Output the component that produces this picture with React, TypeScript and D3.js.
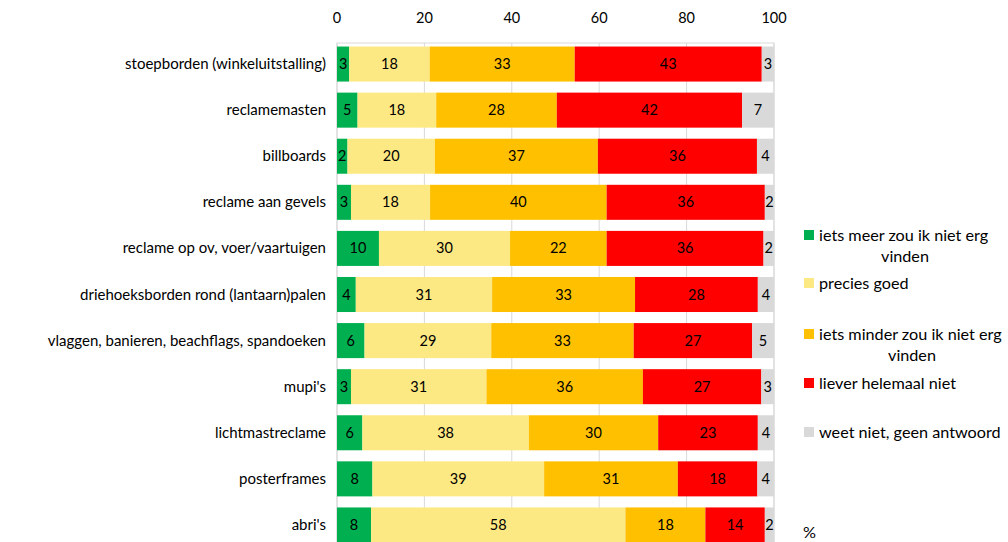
import React from "react";
import * as d3 from "d3";

const categories = [
  "stoepborden (winkeluitstalling)",
  "reclamemasten",
  "billboards",
  "reclame aan gevels",
  "reclame op ov, voer/vaartuigen",
  "driehoeksborden rond (lantaarn)palen",
  "vlaggen, banieren, beachflags, spandoeken",
  "mupi's",
  "lichtmastreclame",
  "posterframes",
  "abri's",
];

const seriesNames = [
  "iets meer zou ik niet erg vinden",
  "precies goed",
  "iets minder zou ik niet erg vinden",
  "liever helemaal niet",
  "weet niet, geen antwoord",
];

const meer = [2.8, 4.7, 2.4, 3.2, 9.6, 4.3, 6.3, 3.2, 5.8, 8.1, 7.8];
const precies = [18.4, 18.0, 20.0, 18.1, 30.0, 31.2, 29.0, 31.0, 38.1, 39.3, 58.2];
const minder = [33.2, 27.6, 37.3, 40.4, 22.1, 32.7, 32.6, 35.8, 29.6, 30.6, 18.3];
const liever = [42.8, 42.4, 36.4, 36.2, 35.9, 28.1, 27.1, 27.1, 22.8, 18.2, 13.6];
const weetNiet = [2.8, 7.3, 3.9, 2.1, 2.4, 3.7, 5.0, 2.9, 3.7, 3.8, 2.1];

const xTicks = [0, 20, 40, 60, 80, 100];

const colors = ["#00b050", "#fde983", "#ffc000", "#ff0000", "#d9d9d9"];

const FONT = "Lato, 'Open Sans', sans-serif";

const App: React.FC = () => {
  const width = 1008;
  const height = 542;
  const plot = { left: 337, right: 774, top: 41, bottom: 548 };

  const x = d3.scaleLinear().domain([0, 100]).range([plot.left, plot.right]);
  const y = d3
    .scaleBand<string>()
    .domain(categories)
    .range([plot.top, plot.bottom])
    .paddingInner(0.24)
    .paddingOuter(0.12);

  const table = categories.map((c, i) => ({
    category: c,
    s0: meer[i],
    s1: precies[i],
    s2: minder[i],
    s3: liever[i],
    s4: weetNiet[i],
  }));
  const keys = ["s0", "s1", "s2", "s3", "s4"];
  const stacked = d3.stack<any>().keys(keys)(table);

  const legendY = [235, 283, 334, 383, 432];

  return (
    <svg
      width={width}
      height={height}
      style={{ position: "absolute", left: 0, top: 0, fontFamily: FONT }}
    >
      <rect x={0} y={0} width={width} height={height} fill="#fff" />
      {/* plot frame and gridlines */}
      <rect
        x={plot.left}
        y={43}
        width={plot.right - plot.left}
        height={plot.bottom - 43}
        fill="none"
        stroke="#d9d9d9"
      />
      {xTicks.map((t) => (
        <g key={t}>
          <line
            x1={x(t)}
            x2={x(t)}
            y1={43}
            y2={plot.bottom}
            stroke="#d9d9d9"
          />
          <text
            x={x(t)}
            y={23}
            textAnchor="middle"
            fontSize={14.5}
            fill="#000"
          >
            {t}
          </text>
        </g>
      ))}

      {/* bars */}
      {stacked.map((layer, si) => (
        <g key={layer.key}>
          {layer.map((d, i) => {
            const x0 = x(d[0]);
            const x1 = x(d[1]);
            const yy = y(categories[i]) ?? 0;
            return (
              <g key={i}>
                <rect
                  x={x0}
                  y={yy}
                  width={x1 - x0}
                  height={y.bandwidth()}
                  fill={colors[si]}
                />
                <text
                  x={(x0 + x1) / 2}
                  y={yy + y.bandwidth() / 2 + 5}
                  textAnchor="middle"
                  fontSize={14.5}
                  fill="#000"
                >
                  {Math.round(d[1] - d[0])}
                </text>
              </g>
            );
          })}
        </g>
      ))}

      {/* category labels */}
      {categories.map((c) => (
        <text
          key={c}
          x={326}
          y={(y(c) ?? 0) + y.bandwidth() / 2 + 5}
          textAnchor="end"
          fontSize={15}
          fill="#000"
        >
          {c}
        </text>
      ))}

      {/* legend */}
      {seriesNames.map((name, i) => {
        const words = name.endsWith(" vinden")
          ? [name.slice(0, -7), "vinden"]
          : [name];
        return (
          <g key={name}>
            <rect
              x={804}
              y={legendY[i] - 5}
              width={10}
              height={10}
              fill={colors[i]}
            />
            <text x={819} y={legendY[i] + 5.5} fontSize={16.2} fill="#000">
              {words[0]}
            </text>
            {words.length > 1 && (
              <text
                x={i === 0 ? 905 : 912}
                y={legendY[i] + 26.5}
                textAnchor="middle"
                fontSize={16.2}
                fill="#000"
              >
                {words[1]}
              </text>
            )}
          </g>
        );
      })}
      <text x={803} y={538} fontSize={16.2} fill="#000">
        %
      </text>
    </svg>
  );
};

export default App;
